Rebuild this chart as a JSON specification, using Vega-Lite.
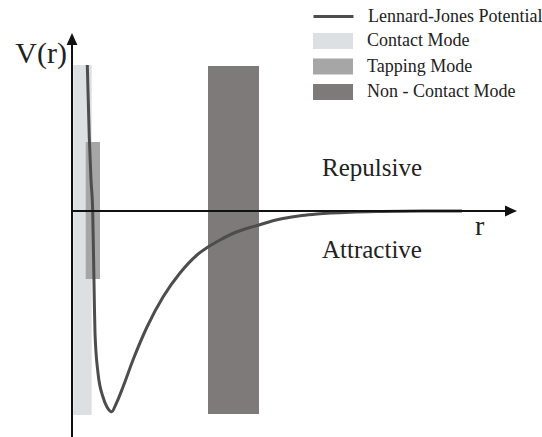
{
  "$schema": "https://vega.github.io/schema/vega-lite/v6.json",
  "width": 542,
  "height": 437,
  "autosize": {"type": "none"},
  "padding": 0,
  "background": "white",
  "config": {"view": {"stroke": null}, "font": "Liberation Serif"},
  "datasets": {
    "modes": [
      {"mode": "Contact Mode", "r0": 0.013, "r1": 0.197, "v0": -2.04, "v1": 1.46},
      {"mode": "Tapping Mode", "r0": 0.137, "r1": 0.28, "v0": -0.68, "v1": 0.69},
      {"mode": "Non - Contact Mode", "r0": 1.36, "r1": 1.87, "v0": -2.03, "v1": 1.45}
    ],
    "curve": [
      {"r": 0.153, "v": 1.46},
      {"r": 0.173, "v": 0.73},
      {"r": 0.19, "v": 0.31},
      {"r": 0.207, "v": 0.0},
      {"r": 0.223, "v": -0.89},
      {"r": 0.23, "v": -1.22},
      {"r": 0.26, "v": -1.62},
      {"r": 0.31, "v": -1.86},
      {"r": 0.35, "v": -1.96},
      {"r": 0.397, "v": -2.007},
      {"r": 0.44, "v": -1.93},
      {"r": 0.51, "v": -1.76},
      {"r": 0.61, "v": -1.49},
      {"r": 0.75, "v": -1.16},
      {"r": 0.91, "v": -0.86},
      {"r": 1.08, "v": -0.62},
      {"r": 1.25, "v": -0.44},
      {"r": 1.36, "v": -0.36},
      {"r": 1.48, "v": -0.29},
      {"r": 1.62, "v": -0.22},
      {"r": 1.78, "v": -0.165},
      {"r": 1.87, "v": -0.14},
      {"r": 2.0, "v": -0.1},
      {"r": 2.11, "v": -0.075},
      {"r": 2.3, "v": -0.045},
      {"r": 2.45, "v": -0.03},
      {"r": 2.78, "v": -0.012},
      {"r": 3.1, "v": -0.005},
      {"r": 3.5, "v": -0.001},
      {"r": 3.9, "v": 0.0}
    ],
    "axes": [
      {"r": 0, "r2": 0, "v": -2.26, "v2": 1.68},
      {"r": 0, "r2": 4.36, "v": 0, "v2": 0}
    ],
    "arrows": [
      {"r": 0, "v": 1.72, "dir": "up"},
      {"r": 4.39, "v": 0, "dir": "right"}
    ],
    "ylabel": [{"label": "V(r)", "r": -0.05, "v": 1.48}],
    "regions": [
      {"label": "Repulsive", "r": 2.5, "v": 0.35},
      {"label": "Attractive", "r": 2.5, "v": -0.47}
    ],
    "xlabel": [{"label": "r", "r": 4.03, "v": -0.24}]
  },
  "layer": [
    {
      "data": {"name": "modes"},
      "mark": {"type": "rect"},
      "encoding": {
        "x": {"field": "r0", "type": "quantitative", "scale": {"domain": [-0.72, 4.7], "nice": false, "zero": false}, "axis": null},
        "x2": {"field": "r1"},
        "y": {"field": "v0", "type": "quantitative", "scale": {"domain": [-2.26, 2.11], "nice": false, "zero": false}, "axis": null},
        "y2": {"field": "v1"},
        "color": {
          "field": "mode",
          "type": "nominal",
          "sort": null,
          "scale": {"domain": ["Contact Mode", "Tapping Mode", "Non - Contact Mode"], "range": ["#dde0e2", "#a6a6a6", "#7e7a79"]},
          "legend": {
            "title": null,
            "orient": "none",
            "legendX": 324,
            "legendY": 32,
            "padding": 0,
            "symbolType": "M-2.5,-1H2.5V1H-2.5Z",
            "symbolSize": 256,
            "symbolStrokeWidth": 0,
            "symbolOpacity": 1,
            "labelFont": "Liberation Serif",
            "labelFontSize": 18,
            "labelColor": "#222222",
            "labelOffset": 25,
            "labelLimit": 300,
            "rowPadding": 7.5
          }
        }
      }
    },
    {
      "data": {"name": "curve"},
      "mark": {"type": "line", "interpolate": "monotone", "strokeWidth": 3},
      "encoding": {
        "x": {"field": "r", "type": "quantitative"},
        "y": {"field": "v", "type": "quantitative"},
        "stroke": {
          "datum": "Lennard-Jones Potential",
          "type": "nominal",
          "scale": {"range": ["#4d4d4d"]},
          "legend": {
            "title": null,
            "orient": "none",
            "legendX": 324,
            "legendY": 7,
            "padding": 0,
            "symbolType": "M-2.5,0H2.5",
            "symbolSize": 256,
            "symbolStrokeWidth": 3,
            "labelFont": "Liberation Serif",
            "labelFontSize": 18,
            "labelColor": "#222222",
            "labelOffset": 25,
            "labelLimit": 300
          }
        }
      }
    },
    {
      "data": {"name": "axes"},
      "mark": {"type": "rule", "color": "#111111", "strokeWidth": 2},
      "encoding": {
        "x": {"field": "r", "type": "quantitative"},
        "x2": {"field": "r2"},
        "y": {"field": "v", "type": "quantitative"},
        "y2": {"field": "v2"}
      }
    },
    {
      "data": {"name": "arrows"},
      "mark": {"type": "point", "filled": true, "color": "#111111", "size": 144, "opacity": 1},
      "encoding": {
        "x": {"field": "r", "type": "quantitative"},
        "y": {"field": "v", "type": "quantitative"},
        "shape": {"field": "dir", "type": "nominal", "scale": {"domain": ["up", "right"], "range": ["M0,-1L0.9,1L-0.9,1Z", "M1,0L-1,0.9L-1,-0.9Z"]}, "legend": null}
      }
    },
    {
      "data": {"name": "ylabel"},
      "mark": {"type": "text", "font": "Liberation Serif", "fontSize": 30, "align": "right", "baseline": "alphabetic", "color": "#222222"},
      "encoding": {
        "x": {"field": "r", "type": "quantitative"},
        "y": {"field": "v", "type": "quantitative"},
        "text": {"field": "label"}
      }
    },
    {
      "data": {"name": "regions"},
      "mark": {"type": "text", "font": "Liberation Serif", "fontSize": 25, "align": "left", "baseline": "alphabetic", "color": "#222222"},
      "encoding": {
        "x": {"field": "r", "type": "quantitative"},
        "y": {"field": "v", "type": "quantitative"},
        "text": {"field": "label"}
      }
    },
    {
      "data": {"name": "xlabel"},
      "mark": {"type": "text", "font": "Liberation Serif", "fontSize": 28, "align": "left", "baseline": "alphabetic", "color": "#222222"},
      "encoding": {
        "x": {"field": "r", "type": "quantitative"},
        "y": {"field": "v", "type": "quantitative"},
        "text": {"field": "label"}
      }
    }
  ]
}
